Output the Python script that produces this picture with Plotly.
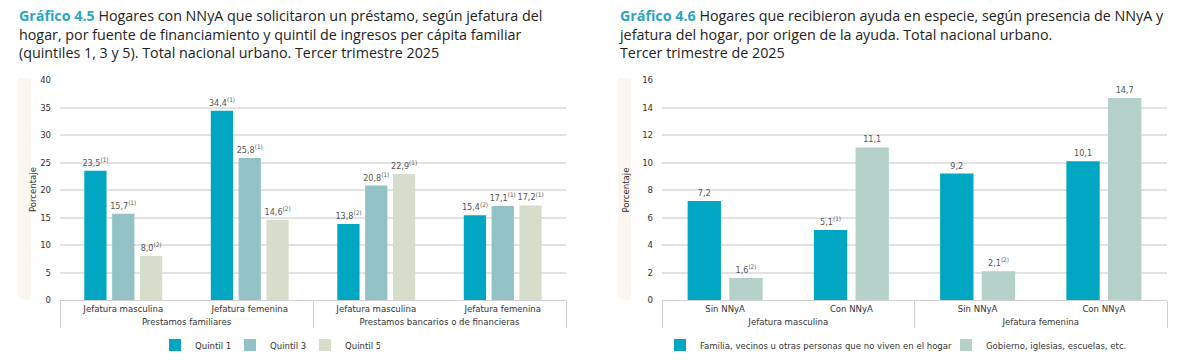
import plotly.graph_objects as go

# ---------- data ----------
left_outer = ["Prestamos familiares", "Prestamos familiares",
              "Prestamos bancarios o de financieras", "Prestamos bancarios o de financieras"]
left_inner = ["Jefatura masculina", "Jefatura femenina", "Jefatura masculina", "Jefatura femenina"]
q1 = [23.5, 34.4, 13.8, 15.4]
q1_notes = ["(1)", "(1)", "(2)", "(2)"]
q3 = [15.7, 25.8, 20.8, 17.1]
q3_notes = ["(1)", "(1)", "(1)", "(1)"]
q5 = [8.0, 14.6, 22.9, 17.2]
q5_notes = ["(2)", "(2)", "(1)", "(1)"]

right_outer = ["Jefatura masculina", "Jefatura masculina", "Jefatura femenina", "Jefatura femenina"]
right_inner = ["Sin NNyA", "Con NNyA", "Sin NNyA", "Con NNyA"]
familia = [7.2, 5.1, 9.2, 10.1]
familia_notes = ["", "(1)", "", ""]
gobierno = [1.6, 11.1, 2.1, 14.7]
gobierno_notes = ["(2)", "", "(2)", ""]

title_left = ["Hogares con NNyA que solicitaron un préstamo, según jefatura del",
              "hogar, por fuente de financiamiento y quintil de ingresos per cápita familiar",
              "(quintiles 1, 3 y 5). Total nacional urbano. Tercer trimestre 2025"]
title_right = ["Hogares que recibieron ayuda en especie, según presencia de NNyA y",
               "jefatura del hogar, por origen de la ayuda. Total nacional urbano.",
               "Tercer trimestre de 2025"]

# ---------- style ----------
W, H = 1200, 360
NARROW = "DejaVu Sans Condensed"
TITLEF = "Open Sans"
C_Q1, C_Q3, C_Q5 = "#00a6c2", "#93c2c6", "#d6ddcb"
C_FAM, C_GOB = "#00a6c2", "#b4d1c9"
LBL = "#555555"
FS = 9.5


def fmt(vals, notes):
    return [f"{v:.1f}".replace(".", ",") + (f"<sup>{n}</sup>" if n else "") for v, n in zip(vals, notes)]


def px_x(p):
    return p / W


def px_y(p):
    return 1 - p / H


fig = go.Figure()

for name, vals, notes, col in [("Quintil 1", q1, q1_notes, C_Q1),
                               ("Quintil 3", q3, q3_notes, C_Q3),
                               ("Quintil 5", q5, q5_notes, C_Q5)]:
    fig.add_trace(go.Bar(x=[left_outer, left_inner], y=vals, name=name, marker_color=col,
                         marker_line_width=0, text=fmt(vals, notes), textposition="outside",
                         constraintext="none",
                         textfont=dict(family=NARROW, size=9, color=LBL), cliponaxis=False,
                         xaxis="x", yaxis="y", legend="legend", offsetgroup=name))

for (name, vals, notes, col), lg in zip(
        [("Familia, vecinos u otras personas que no viven en el hogar", familia, familia_notes, C_FAM),
         ("Gobierno, iglesias, escuelas, etc.", gobierno, gobierno_notes, C_GOB)],
        ["legend2", "legend3"]):
    fig.add_trace(go.Bar(x=[right_outer, right_inner], y=vals, name=name, marker_color=col,
                         marker_line_width=0, text=fmt(vals, notes), textposition="outside",
                         constraintext="none",
                         textfont=dict(family=NARROW, size=9, color=LBL), cliponaxis=False,
                         xaxis="x2", yaxis="y2", legend=lg, offsetgroup=name))

ydom = [px_y(300), px_y(80)]
common_x = dict(type="multicategory", showgrid=False, showline=True, linecolor="#d0d0d0",
                linewidth=1, showdividers=True, dividercolor="#d0d0d0", dividerwidth=1,
                tickangle=0, automargin=False,
                tickfont=dict(family=NARROW, size=FS, color="#333"), ticks="", fixedrange=True)
common_y = dict(showgrid=True, gridcolor="#e3e3e3", gridwidth=1.5, zeroline=False, ticks="",
                tickfont=dict(family=NARROW, size=FS, color="#333"), ticklabelstandoff=8,
                automargin=False, fixedrange=True)

leg_common = dict(orientation="h", yanchor="middle", y=px_y(345),
                  font=dict(family=NARROW, size=FS, color="#333"), itemwidth=30,
                  traceorder="normal", bgcolor="rgba(0,0,0,0)")

fig.update_layout(
    width=W, height=H, margin=dict(l=0, r=0, t=0, b=0, autoexpand=False),
    paper_bgcolor="white", plot_bgcolor="white",
    barmode="group", bargap=0.34, bargroupgap=0.2,
    xaxis=dict(domain=[px_x(60), px_x(566)], anchor="y", **common_x),
    yaxis=dict(domain=ydom, range=[0, 40], dtick=5, anchor="x", **common_y),
    xaxis2=dict(domain=[px_x(662), px_x(1167)], anchor="y2", **common_x),
    yaxis2=dict(domain=ydom, range=[0, 16], dtick=2, anchor="x2", **common_y),
    legend=dict(x=px_x(155), xanchor="left", entrywidth=30, entrywidthmode="pixels", **leg_common),
    legend2=dict(x=px_x(660), xanchor="left", **leg_common),
    legend3=dict(x=px_x(946), xanchor="left", **leg_common),
    showlegend=True,
)

# Background pill for y-axis titles
for x0 in (18, 618):
    x1 = x0 + 13
    y0p, y1p = px_y(300), px_y(78)
    r = 8
    path = (f"M {px_x(x0)} {y1p} L {px_x(x1)} {y1p} L {px_x(x1)} {y0p} "
            f"L {px_x(x0 + r)} {y0p} Q {px_x(x0)} {y0p} {px_x(x0)} {px_y(300 - r)} Z")
    fig.add_shape(type="path", path=path, xref="paper", yref="paper",
                  fillcolor="#fbf7f0", line_width=0, layer="below")

for x in (24, 624):
    fig.add_annotation(x=px_x(x + 0.5), y=px_y(190), xref="paper", yref="paper", text="Porcentaje",
                       textangle=-90, showarrow=False,
                       font=dict(family=NARROW, size=FS, color="#333"))

# Titles
for x0, label, lines in [(17, "Gráfico 4.5", title_left), (617, "Gráfico 4.6", title_right)]:
    txt = f"<b><span style='color:#2aa6c2'>{label}</span></b> " + "<br>".join(lines)
    fig.add_annotation(x=px_x(x0), y=px_y(34), xref="paper", yref="paper",
                       xanchor="left", yanchor="middle", align="left", text=txt, showarrow=False,
                       font=dict(family=TITLEF, size=14.3, color="#222"))

# remove the default page margin so the figure sits at the window's top-left corner
fig.write_html("out.html", config={"displayModeBar": False},
               post_script="document.body.style.margin='0';")
